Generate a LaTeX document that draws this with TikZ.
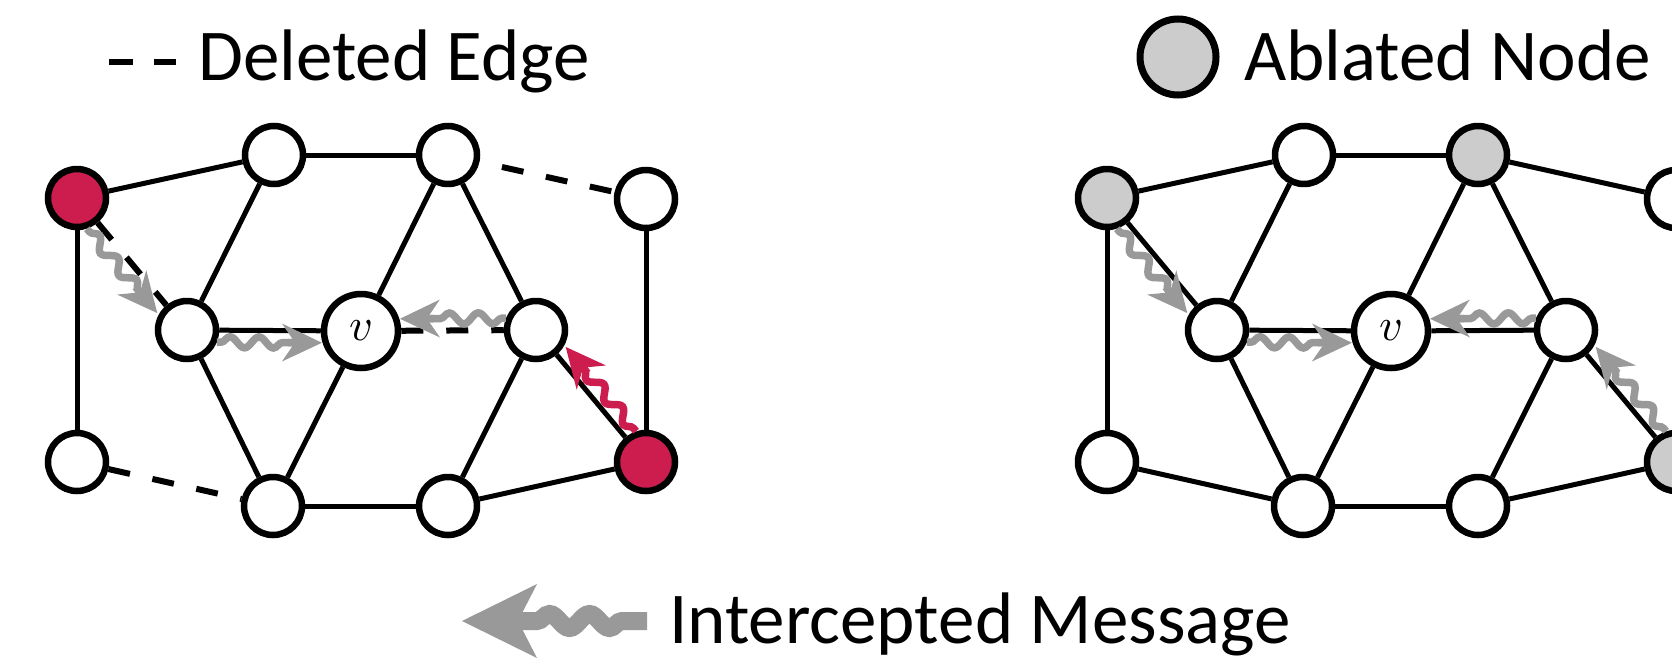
\documentclass[tikz,border=0pt]{standalone}
\usepackage{graphicx}
\usepackage{fontspec}
\setmainfont{Carlito}
\usetikzlibrary{arrows.meta,decorations.pathmorphing,calc}
\definecolor{crim}{RGB}{204,29,78}
\definecolor{msggray}{RGB}{153,153,153}
\definecolor{abl}{RGB}{204,204,204}
% #1 source node, #2 target node, #3 end distance, #4 wave end distance, #5 tip start distance, #6 colour
\newcommand\msgarrow[6]{%
 \draw[wave,draw=#6] ($(#1)!30pt!(#2)!12pt!-90:(#2)$) -- ($(#2)!#4pt!(#1)!12pt!90:(#1)$);
 \draw[headtip=#6] ($(#2)!#5pt!(#1)!12pt!90:(#1)$) -- ($(#2)!#3pt!(#1)!12pt!90:(#1)$);
}
\begin{document}
\begin{tikzpicture}[x=1pt,y=-1pt,
 vtx/.style={circle,draw,line width=6.5pt,minimum size=58pt,inner sep=0pt,fill=white},
 vbig/.style={vtx,minimum size=74pt},
 redv/.style={vtx,fill=crim},
 ablv/.style={vtx,fill=abl},
 edge/.style={line width=5pt},
 dedge/.style={line width=6pt,dash pattern=on 22pt off 23pt},
 wave/.style={line width=7.5pt,decorate,
   decoration={snake,amplitude=5.5pt,segment length=29pt,pre length=4pt}},
 headtip/.style={line width=7.5pt,draw=#1,
   -{Stealth[length=40pt,width=38pt,inset=13pt,line width=0pt,fill=#1]}},
 bigwave/.style={line width=18pt,draw=msggray,decorate,
   decoration={snake,amplitude=7pt,segment length=40pt,pre length=25pt}},
 bigtip/.style={line width=18pt,draw=msggray,
   -{Stealth[length=75pt,width=74pt,inset=19pt,line width=0pt,fill=msggray]}},
 lbl/.style={anchor=base west,inner sep=0pt,font=\fontsize{73}{80}\selectfont}
]
\clip (0,0) rectangle (1672,659);
% ---------- legends ----------
\coordinate (dl1) at (109,62);
\coordinate (dl2) at (176,62);
\draw[line width=6.5pt,dash pattern=on 24pt off 21pt] (dl1) -- (dl2);
\node[lbl] (tde) at (198,80) {Deleted Edge};
\node[ablv,minimum size=76pt,line width=7pt] (lg) at (1178,57) {};
\node[lbl] (tab) at (1244,80) {Ablated Node};
\coordinate (ims) at (647,621);
\coordinate (imn) at (518,621);
\coordinate (imh) at (522,621);
\coordinate (ime) at (462,621);
\draw[bigwave] (ims) -- (imn);
\draw[bigtip] (imh) -- (ime);
\node[lbl] (tim) at (669,643) {Intercepted Message};
% ---------- left graph ----------
\node[redv] (A) at (77,198) {};
\node[vtx] (B) at (274,155) {};
\node[vtx] (C) at (448,155) {};
\node[vtx] (D) at (646,199) {};
\node[vtx] (E) at (187,330) {};
\node[vbig] (V) at (361,331) {\scalebox{4.6}{$v$}};
\node[vtx] (F) at (536,330) {};
\node[vtx] (G) at (77,462) {};
\node[vtx] (H) at (273,506) {};
\node[vtx] (I) at (448,506) {};
\node[redv] (J) at (646,462) {};
\draw[edge] (A) -- (B);
\draw[edge] (B) -- (C);
\draw[dedge,dash phase=22pt] (C) -- (D);
\draw[dedge] (A) -- (E);
\draw[edge] (A) -- (G);
\draw[edge] (D) -- (J);
\draw[edge] (B) -- (E);
\draw[edge] (C) -- (V);
\draw[edge] (C) -- (F);
\draw[edge] (E) -- (V);
\draw[dedge] (V) -- (F);
\draw[edge] (E) -- (H);
\draw[edge] (V) -- (H);
\draw[edge] (F) -- (I);
\draw[edge] (F) -- (J);
\draw[dedge] (G) -- (H);
\draw[edge] (H) -- (I);
\draw[edge] (I) -- (J);
\msgarrow{A}{E}{32}{59}{66}{msggray}
\msgarrow{E}{V}{39}{66}{73}{msggray}
\msgarrow{F}{V}{39}{66}{73}{msggray}
\msgarrow{J}{F}{32}{59}{66}{crim}
% ---------- right graph ----------
\node[ablv] (A2) at (1107,198) {};
\node[vtx] (B2) at (1304,155) {};
\node[ablv] (C2) at (1478,155) {};
\node[vtx] (D2) at (1676,199) {};
\node[vtx] (E2) at (1217,330) {};
\node[vbig] (V2) at (1391,331) {\scalebox{4.6}{$v$}};
\node[vtx] (F2) at (1566,330) {};
\node[vtx] (G2) at (1107,462) {};
\node[vtx] (H2) at (1303,506) {};
\node[vtx] (I2) at (1478,506) {};
\node[ablv] (J2) at (1676,462) {};
\draw[edge] (A2) -- (B2);
\draw[edge] (B2) -- (C2);
\draw[edge] (C2) -- (D2);
\draw[edge] (A2) -- (E2);
\draw[edge] (A2) -- (G2);
\draw[edge] (D2) -- (J2);
\draw[edge] (B2) -- (E2);
\draw[edge] (C2) -- (V2);
\draw[edge] (C2) -- (F2);
\draw[edge] (E2) -- (V2);
\draw[edge] (V2) -- (F2);
\draw[edge] (E2) -- (H2);
\draw[edge] (V2) -- (H2);
\draw[edge] (F2) -- (I2);
\draw[edge] (F2) -- (J2);
\draw[edge] (G2) -- (H2);
\draw[edge] (H2) -- (I2);
\draw[edge] (I2) -- (J2);
\msgarrow{A2}{E2}{32}{59}{66}{msggray}
\msgarrow{E2}{V2}{39}{66}{73}{msggray}
\msgarrow{F2}{V2}{39}{66}{73}{msggray}
\msgarrow{J2}{F2}{32}{59}{66}{msggray}
\end{tikzpicture}
\end{document}
